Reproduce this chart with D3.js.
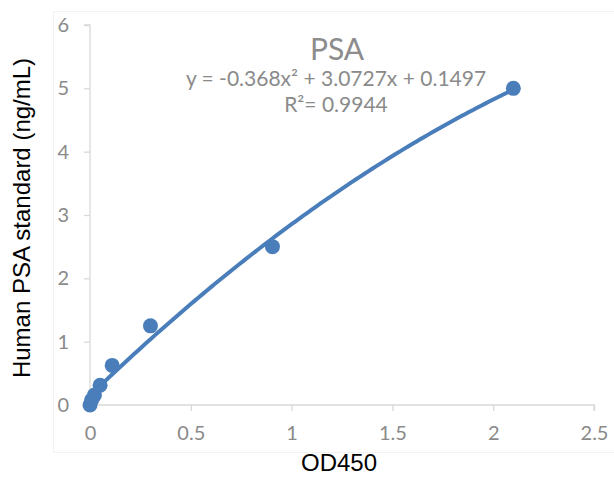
<!DOCTYPE html>
<html><head><meta charset="utf-8">
<script src="https://cdn.jsdelivr.net/npm/d3@7"></script>
<style>body{margin:0;background:#fff}svg{display:block}</style>
</head><body>
<script>
const od450 = [0.0, 0.008, 0.022, 0.05, 0.11, 0.30, 0.905, 2.1];
const psa = [0.0, 0.078, 0.156, 0.3125, 0.625, 1.25, 2.5, 5.0];
const coef = [-0.368, 3.0727, 0.1497];
const xTicks = [0, 0.5, 1, 1.5, 2, 2.5];
const yTicks = [0, 1, 2, 3, 4, 5, 6];
const titleText = "PSA";
const eqText = "y = -0.368x² + 3.0727x + 0.1497";
const r2Text = "R²= 0.9944";

const W = 614, H = 495;
const svg = d3.select("body").append("svg").attr("width", W).attr("height", H);
const x = d3.scaleLinear().domain([0, 2.5]).range([90, 594]);
const y = d3.scaleLinear().domain([0, 6]).range([405, 25]);
const gray = "#d9d9d9", txt = "#8a8a8a", blue = "#4a7ebb";

// faint chart-area frame
svg.append("rect").attr("x", 53.5).attr("y", 11.5).attr("width", 580).attr("height", 441)
  .attr("fill", "none").attr("stroke", "#f2f2f2").attr("stroke-width", 1);

const xa = svg.append("g").attr("transform", "translate(0,405)")
  .call(d3.axisBottom(x).tickValues(xTicks).tickSize(6).tickPadding(15).tickFormat(d3.format("")));
const ya = svg.append("g").attr("transform", "translate(90,0)")
  .call(d3.axisLeft(y).tickValues(yTicks).tickSize(6).tickPadding(15).tickFormat(d3.format("d")));
[xa, ya].forEach(a => {
  a.selectAll("path").attr("stroke", gray).attr("stroke-width", 1.3);
  a.selectAll("line").attr("stroke", gray).attr("stroke-width", 1.3);
  a.selectAll("text").attr("fill", txt).style("font-family", "Lato, 'Open Sans', sans-serif").style("font-size", "20px");
});
ya.select(".domain").attr("d", "M0,405V25H-6");
xa.select(".domain").attr("d", "M90,0H594V6");

// trendline
const xs = d3.range(0, 2.1001, 0.02);
const line = d3.line().x(d => x(d)).y(d => y(coef[0]*d*d + coef[1]*d + coef[2]));
svg.append("path").datum(xs).attr("d", line).attr("fill", "none")
  .attr("stroke", blue).attr("stroke-width", 4);

// points
svg.selectAll("circle.pt").data(od450).enter().append("circle")
  .attr("cx", (d) => x(d)).attr("cy", (d, i) => y(psa[i])).attr("r", 7.5).attr("fill", blue);

// title & equation
svg.append("text").attr("x", 337).attr("y", 60).attr("text-anchor", "middle")
  .attr("fill", "#8c8c8c").style("font-family", "Lato, sans-serif").style("font-size", "30px").text(titleText);
svg.append("text").attr("x", 336).attr("y", 86).attr("text-anchor", "middle")
  .attr("fill", txt).style("font-family", "Lato, sans-serif").style("font-size", "21px").text(eqText);
svg.append("text").attr("x", 336).attr("y", 112).attr("text-anchor", "middle")
  .attr("fill", txt).style("font-family", "Lato, sans-serif").style("font-size", "21px").text(r2Text);

// axis titles
svg.append("text").attr("x", 339).attr("y", 471).attr("text-anchor", "middle")
  .attr("fill", "#000").style("font-family", "'Liberation Sans', Arial, sans-serif").style("font-size", "24px").text("OD450");
svg.append("text").attr("transform", "translate(30,218) rotate(-90)").attr("text-anchor", "middle")
  .attr("fill", "#000").style("font-family", "'Liberation Sans', Arial, sans-serif").style("font-size", "24px").text("Human PSA standard (ng/mL)");
</script>
</body></html>
